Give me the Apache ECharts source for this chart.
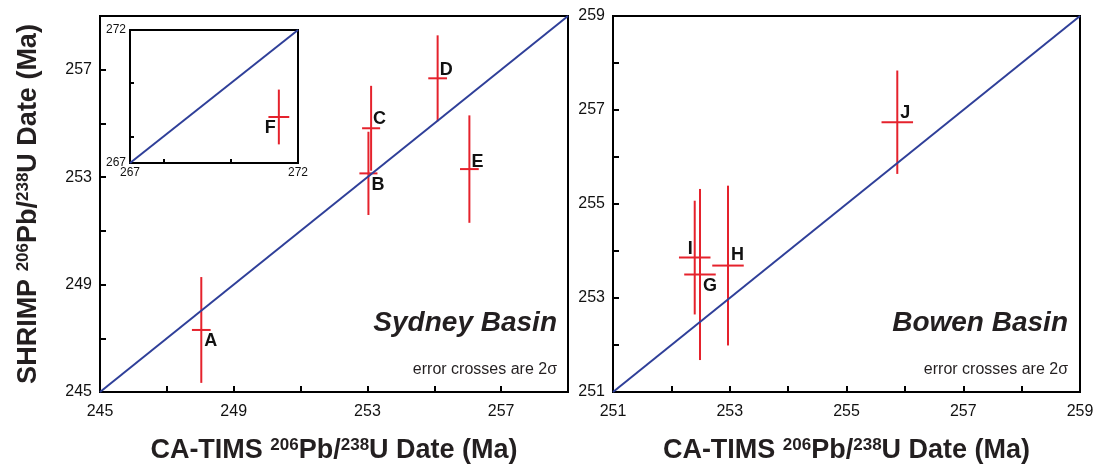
<!DOCTYPE html>
<html>
<head>
<meta charset="utf-8">
<script src="https://cdn.jsdelivr.net/npm/echarts@6/dist/echarts.min.js"></script>
<style>
  html, body { margin: 0; padding: 0; background: #fff; }
  #chart { width: 1096px; height: 465px; }
</style>
</head>
<body>
<div id="chart"></div>
<script>
// Sydney Basin samples: [CA-TIMS date, SHRIMP date, x 2σ, y 2σ]
const sydneyNames = ['A', 'B', 'C', 'D', 'E'];
const sydneyData = [
  [248.03, 247.31, 0.28, 1.97],
  [253.03, 253.14, 0.27, 1.55],
  [253.11, 254.82, 0.27, 1.58],
  [255.10, 256.68, 0.28, 1.60],
  [256.05, 253.30, 0.28, 2.00]
];
// sample F sits off-scale, shown in the inset
const insetNames = ['F'];
const insetData = [
  [271.43, 268.73, 0.31, 1.03]
];
// Bowen Basin samples
const bowenNames = ['G', 'H', 'I', 'J'];
const bowenData = [
  [252.49, 253.50, 0.27, 1.82],
  [252.97, 253.69, 0.27, 1.70],
  [252.40, 253.86, 0.27, 1.21],
  [255.87, 256.74, 0.27, 1.10]
];

// axis ranges and ticks
const sydneyRange = [245, 259];
const sydneyTicks = [247, 249, 251, 253, 255, 257];
const sydneyLabels = [245, 249, 253, 257];
const insetRange = [267, 272];
const insetTicks = [268, 270];
const insetLabels = [267, 272];
const bowenRange = [251, 259];
const bowenTicks = [252, 253, 254, 255, 256, 257, 258];
const bowenLabels = [251, 253, 255, 257, 259];

const RED = '#e5222c';
const BLUE = '#2f3f99';
const FONT = '"Liberation Sans", Arial, sans-serif';

// where each letter goes relative to its cross
const labelPos = {
  A: [3, 11, 'left'], B: [3, 12, 'left'], C: [2, -9, 'left'], D: [2, -8, 'left'],
  E: [2, -7, 'left'], F: [-3, 11, 'right'], G: [3, 12, 'left'], H: [3, -11, 'left'],
  I: [-2, -9, 'right'], J: [3, -9, 'left']
};

function crossRenderer(names) {
  return function (params, api) {
    const x = api.value(0), y = api.value(1), ex = api.value(2), ey = api.value(3);
    const c = api.coord([x, y]);
    const l = api.coord([x - ex, y]), r = api.coord([x + ex, y]);
    const t = api.coord([x, y + ey]), b = api.coord([x, y - ey]);
    const name = names[params.dataIndex];
    const p = labelPos[name];
    const lineStyle = { stroke: RED, lineWidth: 2 };
    return {
      type: 'group',
      children: [
        { type: 'line', shape: { x1: t[0], y1: t[1], x2: b[0], y2: b[1] }, style: lineStyle },
        { type: 'line', shape: { x1: l[0], y1: l[1], x2: r[0], y2: r[1] }, style: lineStyle },
        {
          type: 'text',
          style: {
            text: name, x: c[0] + p[0], y: c[1] + p[1], align: p[2], verticalAlign: 'middle',
            fill: '#111', font: 'bold 18px ' + FONT
          }
        }
      ]
    };
  };
}

const titleRich = {
  b: { fontSize: 27, fontWeight: 'bold', color: '#231f20', fontFamily: FONT },
  s: { fontSize: 17, fontWeight: 'bold', color: '#231f20', fontFamily: FONT, padding: [0, 0, 11, 0] }
};
const titleText = (pre) => '{b|' + pre + ' }{s|206}{b|Pb/}{s|238}{b|U Date (Ma)}';

function makeAxis(gridIndex, range, ticks, labels, opts) {
  return Object.assign({
    type: 'value', gridIndex: gridIndex, min: range[0], max: range[1],
    axisLine: { show: true, lineStyle: { color: '#000', width: 2 } },
    axisTick: { show: true, inside: true, length: 6, customValues: ticks, lineStyle: { color: '#000', width: 2 } },
    axisLabel: { customValues: labels, color: '#111', fontSize: 16, fontFamily: FONT, margin: 8 },
    splitLine: { show: false }
  }, opts || {});
}

const gridBase = { show: true, borderColor: '#000', borderWidth: 2, backgroundColor: '#fff', outerBoundsMode: 'none', containLabel: false };

const chart = echarts.init(document.getElementById('chart'));
chart.setOption({
  animation: false,
  backgroundColor: '#fff',
  grid: [
    Object.assign({ left: 100, top: 16, width: 468, height: 376 }, gridBase),
    Object.assign({ left: 613, top: 16, width: 467, height: 376 }, gridBase),
    Object.assign({ left: 130, top: 30, width: 168, height: 133, z: 5 }, gridBase)
  ],
  xAxis: [
    makeAxis(0, sydneyRange, sydneyTicks, sydneyLabels, {
      axisLabel: { customValues: sydneyLabels, color: '#111', fontSize: 16, fontFamily: FONT, margin: 12 },
      name: titleText('CA-TIMS'), nameLocation: 'middle', nameGap: 45, nameTextStyle: { rich: titleRich }
    }),
    makeAxis(1, bowenRange, bowenTicks, bowenLabels, {
      axisLabel: { customValues: bowenLabels, color: '#111', fontSize: 16, fontFamily: FONT, margin: 12 },
      name: titleText('CA-TIMS'), nameLocation: 'middle', nameGap: 45, nameTextStyle: { rich: titleRich }
    }),
    makeAxis(2, insetRange, insetTicks, insetLabels, {
      z: 6,
      axisTick: { show: true, inside: true, length: 4, customValues: insetTicks, lineStyle: { color: '#000', width: 2 } },
      axisLabel: { customValues: insetLabels, color: '#111', fontSize: 12, fontFamily: FONT, margin: 4 }
    })
  ],
  yAxis: [
    makeAxis(0, sydneyRange, sydneyTicks, sydneyLabels, {
      name: titleText('SHRIMP'), nameLocation: 'middle', nameGap: 57, nameRotate: 90,
      nameTextStyle: { rich: titleRich }
    }),
    makeAxis(1, bowenRange, bowenTicks, bowenLabels),
    makeAxis(2, insetRange, insetTicks, insetLabels, {
      z: 6,
      axisTick: { show: true, inside: true, length: 4, customValues: insetTicks, lineStyle: { color: '#000', width: 2 } },
      axisLabel: { customValues: insetLabels, color: '#111', fontSize: 12, fontFamily: FONT, margin: 4 }
    })
  ],
  series: [
    {
      type: 'line', xAxisIndex: 0, yAxisIndex: 0, symbol: 'none', silent: true,
      data: [[sydneyRange[0], sydneyRange[0]], [sydneyRange[1], sydneyRange[1]]],
      lineStyle: { color: BLUE, width: 2 }
    },
    {
      type: 'line', xAxisIndex: 1, yAxisIndex: 1, symbol: 'none', silent: true,
      data: [[bowenRange[0], bowenRange[0]], [bowenRange[1], bowenRange[1]]],
      lineStyle: { color: BLUE, width: 2 }
    },
    {
      type: 'line', xAxisIndex: 2, yAxisIndex: 2, symbol: 'none', silent: true, z: 7,
      data: [[insetRange[0], insetRange[0]], [insetRange[1], insetRange[1]]],
      lineStyle: { color: BLUE, width: 2 }
    },
    {
      type: 'custom', xAxisIndex: 0, yAxisIndex: 0, data: sydneyData,
      renderItem: crossRenderer(sydneyNames), z: 3
    },
    {
      type: 'custom', xAxisIndex: 1, yAxisIndex: 1, data: bowenData,
      renderItem: crossRenderer(bowenNames), z: 3
    },
    {
      type: 'custom', xAxisIndex: 2, yAxisIndex: 2, data: insetData,
      renderItem: crossRenderer(insetNames), z: 8
    }
  ],
  graphic: [
    { type: 'text', right: 1096 - 557, top: 309, style: { text: 'Sydney Basin', font: 'italic bold 28px ' + FONT, fill: '#231f20' } },
    { type: 'text', right: 1096 - 557, top: 362, style: { text: 'error crosses are 2σ', font: '16px ' + FONT, fill: '#231f20' } },
    { type: 'text', right: 1096 - 1068, top: 309, style: { text: 'Bowen Basin', font: 'italic bold 28px ' + FONT, fill: '#231f20' } },
    { type: 'text', right: 1096 - 1068, top: 362, style: { text: 'error crosses are 2σ', font: '16px ' + FONT, fill: '#231f20' } }
  ]
});
</script>
</body>
</html>
